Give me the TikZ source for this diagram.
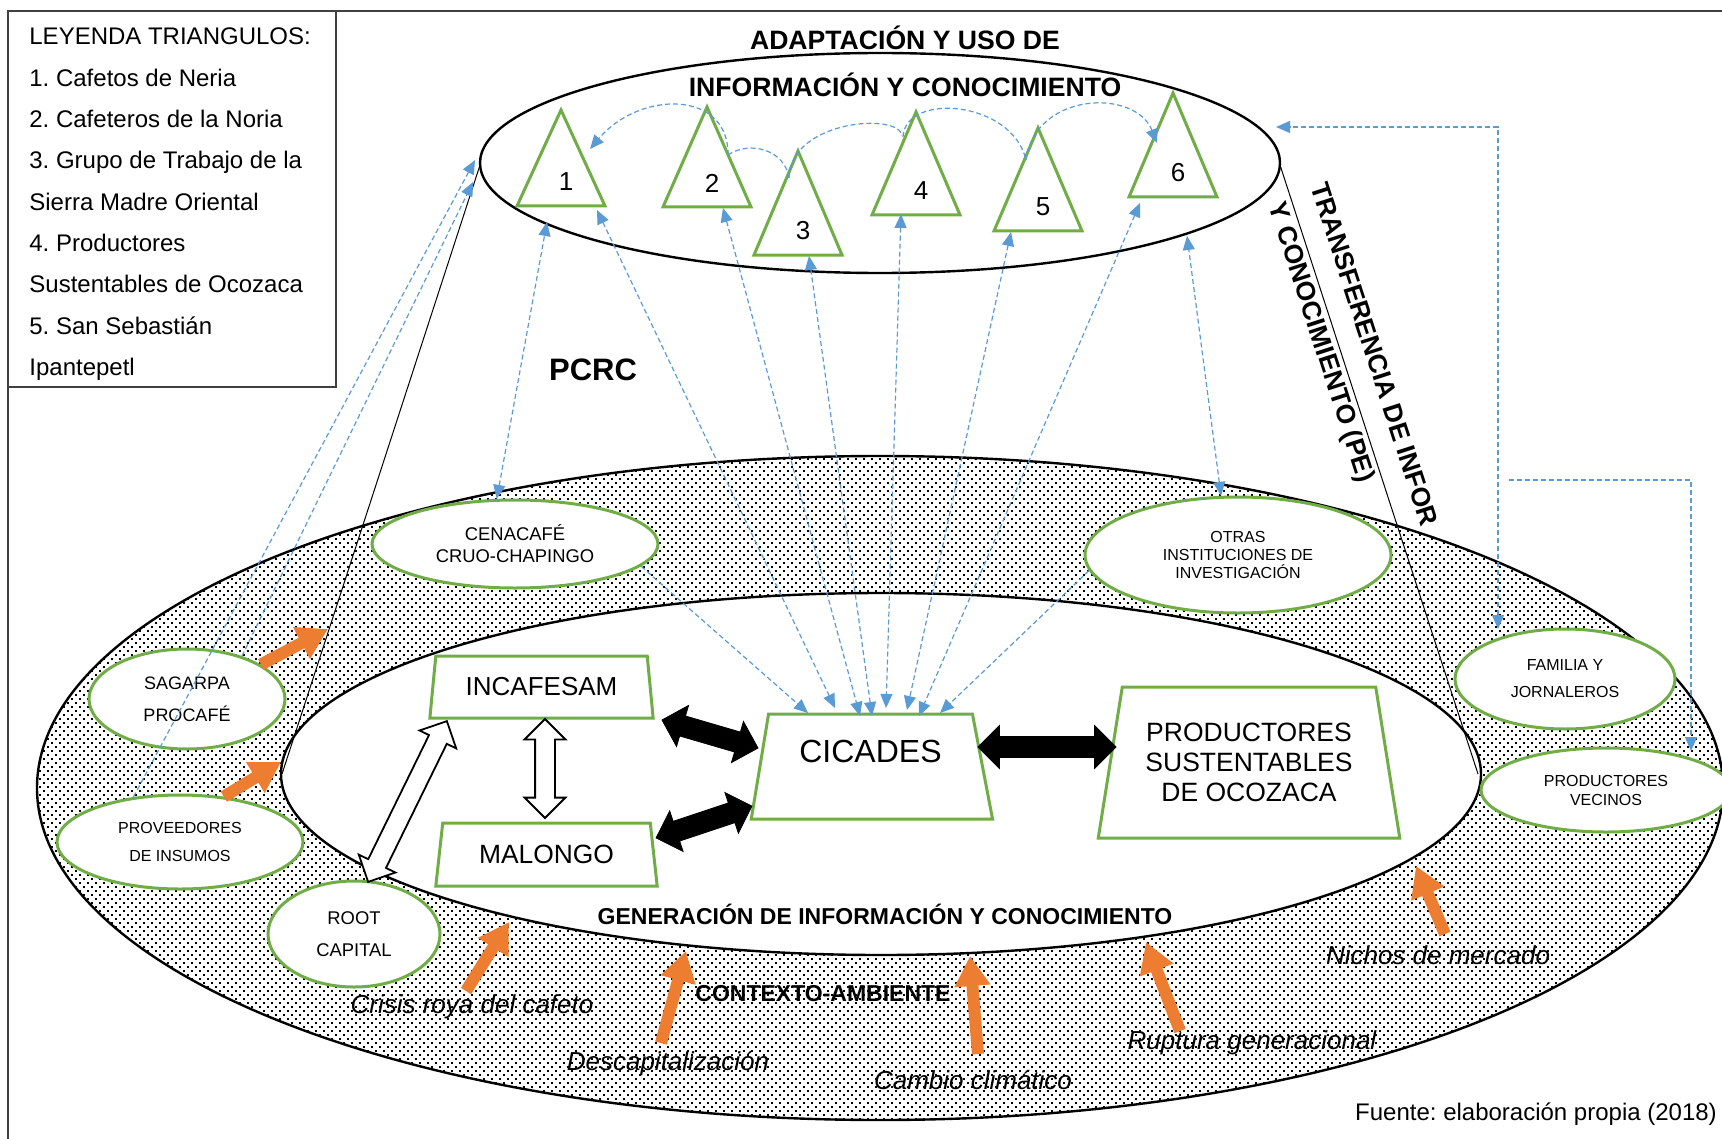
\documentclass[tikz,border=0pt]{standalone}
\usepackage{fontspec}
\setmainfont{Liberation Sans}
\usetikzlibrary{shapes.geometric,shapes.arrows,arrows.meta,patterns}
\definecolor{verde}{HTML}{70AD47}
\definecolor{azul}{HTML}{5B9BD5}
\definecolor{naranja}{HTML}{ED7D31}
\newcommand\fsz[2]{\fontsize{#1}{#2}\selectfont}
\pgfdeclarepatternformonly{puntos}{\pgfqpoint{-1pt}{-1pt}}{\pgfqpoint{5pt}{5pt}}{\pgfqpoint{4pt}{4pt}}{%
  \pgfpathrectangle{\pgfqpoint{-0.42pt}{-0.42pt}}{\pgfqpoint{0.84pt}{0.84pt}}%
  \pgfpathrectangle{\pgfqpoint{1.58pt}{1.58pt}}{\pgfqpoint{0.84pt}{0.84pt}}%
  \pgfusepath{fill}}
\tikzset{
 actor/.style={ellipse,draw=verde,line width=1.5pt,fill=white,inner sep=0pt,align=center},
 caja/.style={trapezium,trapezium stretches=true,draw=verde,line width=1.5pt,fill=white,inner sep=0pt,align=center},
 grupo/.style={draw=verde,line width=1.5pt,fill=white},
 enlace/.style={azul,line width=0.6pt,dash pattern=on 2.5pt off 1.5pt},
 ida/.style={enlace,-{Triangle[length=7pt,width=6pt]}},
 vuelta/.style={enlace,{Triangle[length=7pt,width=6pt]}-{Triangle[length=7pt,width=6pt]}},
 flujo/.style={double arrow,fill=black,draw=black,inner xsep=0pt,inner ysep=5pt,double arrow head extend=5.5pt},
 hueco/.style={double arrow,fill=white,draw=black,line width=0.9pt,inner xsep=0pt,inner ysep=4.5pt,double arrow head extend=5.25pt},
 presion/.style={naranja,line width=6pt,-{Triangle[length=15pt,width=17pt]}},
 factor/.style={anchor=base,inner sep=0pt,font=\fsz{13}{15}\itshape},
 titulo/.style={anchor=base,inner sep=0pt,font=\fsz{13.3}{16}\bfseries},
 giro/.style={rotate=-72,anchor=west,inner sep=0pt,font=\fsz{13.2}{15}\bfseries},
}
\frenchspacing
\begin{document}
\begin{tikzpicture}[x=0.5pt,y=-0.5pt]
\useasboundingbox (0,0) rectangle (1722,1139);
\draw[line width=0.9pt,black!75] (8,1139) -- (8,11) -- (1722,11);
\draw[line width=0.6pt,black!75] (8,11) rectangle (336,387);
\foreach \t [count=\i] in {LEYENDA TRIANGULOS:,1. Cafetos de Neria,2. Cafeteros de la Noria,3. Grupo de Trabajo de la,Sierra Madre Oriental,4. Productores,Sustentables de Ocozaca,5. San Sebastián,Ipantepetl}
  \node[anchor=base west,inner sep=0pt,font=\fsz{12}{14}] (ley\i) at (29,{3.7+41.3*\i}) {\t};
\node[giro] (pe1) at (1319,183) {TRANSFERENCIA DE INFOR};
\node[giro] (pe2) at (1275,203) {Y CONOCIMIENTO (PE)};
\draw[line width=1.2pt,preaction={fill=white},pattern=puntos] (880,788) ellipse [x radius=843,y radius=332];
\draw[line width=1.2pt,fill=white] (881,774) ellipse [x radius=600,y radius=181];
\draw[line width=1.2pt,fill=white] (880,163) ellipse [x radius=400,y radius=110];
\draw[line width=0.5pt] (480,165) -- (282,774);
\draw[line width=0.5pt] (1280,165) -- (1478,774);
\node[titulo] (adap) at (905,50) {ADAPTACIÓN Y USO DE};
\node[titulo] (info) at (905,97) {INFORMACIÓN Y CONOCIMIENTO};
\node[titulo,font=\fsz{15.5}{18}\bfseries] (pcrc) at (593,380) {PCRC};
\node[titulo,font=\fsz{11.5}{14}\bfseries] (gen) at (885,924) {GENERACIÓN DE INFORMACIÓN Y CONOCIMIENTO};
\node[titulo,font=\fsz{11.5}{14}\bfseries] (ctx) at (823,1001) {CONTEXTO-AMBIENTE};
\foreach \n/\x/\ya/\yb in {1/561/110/206,2/707/107/207,3/798/151/255,4/916/112/215,5/1038/128/231,6/1173/93/197}{
  \draw[grupo] (\x-44,\yb) -- (\x,\ya) -- (\x+44,\yb) -- cycle;
  \node[font=\fsz{13}{15}] (t\n) at (\x+5,\yb-24) {\n};
}
\node[actor,minimum width=143pt,minimum height=44pt,font=\fsz{9.2}{11}] (cenacafe) at (515,544) {CENACAFÉ\\CRUO-CHAPINGO};
\node[actor,minimum width=153pt,minimum height=58pt,font=\fsz{8}{9}] (otras) at (1238,555) {OTRAS\\INSTITUCIONES DE\\INVESTIGACIÓN};
\node[actor,minimum width=98pt,minimum height=50pt,font=\fsz{9}{16}] (sagarpa) at (187,699) {SAGARPA\\PROCAFÉ};
\node[actor,minimum width=123pt,minimum height=47pt,font=\fsz{8}{14}] (proveedores) at (180,842) {PROVEEDORES\\DE INSUMOS};
\node[actor,minimum width=86pt,minimum height=53pt,font=\fsz{9.2}{16}] (root) at (354,934) {ROOT\\CAPITAL};
\node[actor,minimum width=110pt,minimum height=50pt,font=\fsz{8}{13.5}] (familia) at (1565,679) {FAMILIA Y\\JORNALEROS};
\node[actor,minimum width=125pt,minimum height=42pt,font=\fsz{8}{9.5}] (vecinos) at (1606,790) {PRODUCTORES\\VECINOS};
\node[caja,minimum width=112.5pt,minimum height=31pt,trapezium left angle=77,trapezium right angle=77,font=\fsz{13}{15}] (incafesam) at (541.5,687) {INCAFESAM};
\node[caja,minimum width=111.5pt,minimum height=31.5pt,trapezium left angle=76.5,trapezium right angle=76.5,font=\fsz{13.2}{15}] (malongo) at (546.5,854.5) {MALONGO};
\node[caja,minimum width=121.5pt,minimum height=52.5pt,trapezium left angle=77,trapezium right angle=75,font=\fsz{16}{19},text depth=15pt] (cicades) at (870.5,766.5) {CICADES};
\node[caja,minimum width=151pt,minimum height=75.5pt,trapezium left angle=76,trapezium right angle=76,font=\fsz{13.25}{15}] (psoc) at (1249,762.5) {PRODUCTORES\\SUSTENTABLES\\DE OCOZACA};
\draw[ida] (728,155) .. controls (729,90) and (640,90) .. (590,149);
\draw[enlace] (728,155) .. controls (750,140) and (785,150) .. (789,178);
\draw[enlace] (789,178) .. controls (790,120) and (900,112) .. (902,136);
\draw[enlace] (903,137) .. controls (905,92) and (1012,100) .. (1026,160);
\draw[ida] (1026,160) .. controls (1035,92) and (1135,88) .. (1157,143);
\foreach \i/\ux/\uy/\dx/\dy in {1/597/210/835/708,2/723/208/860/716,3/809/256/872/716,4/901/214/886/708,5/1011/232/907/710,6/1140/203/919/716}{
  \coordinate (up\i) at (\ux,\uy);
  \coordinate (dn\i) at (\dx,\dy);
  \draw[vuelta] (up\i) -- (dn\i);
}
\draw[vuelta] (cenacafe.112) -- (547,222);
\draw[vuelta] (otras.106) -- (1187,236);
\draw[ida] (cenacafe.-10) -- (808,713);
\draw[ida] (otras.186) -- (940,713);
\draw[ida] (proveedores.136) -- (475,160);
\draw[ida] (sagarpa.38) -- (473,182);
\draw[vuelta] (1498,629) |- (1276,127);
\draw[ida] (1509,480) -| (1691,751);
\node[flujo,minimum height=50pt,rotate=-16.3] (f1) at (710,734) {};
\node[flujo,minimum height=50.5pt,rotate=18.4] (f2) at (704,822) {};
\node[flujo,minimum height=69pt] (f3) at (1047,747) {};
\node[hueco,minimum height=49.5pt,rotate=90] (h1) at (545,768.5) {};
\node[hueco,minimum height=89.5pt,rotate=63.9] (h2) at (407.5,801.5) {};
\draw[presion] (sagarpa.25) -- (328,629);
\draw[presion] (proveedores.46) -- (281,762);
\draw[presion] (466,991) -- (509,922);
\draw[presion] (661,1043) -- (686,951);
\draw[presion] (978,1054) -- (970,956);
\draw[presion] (1180,1031) -- (1146,942);
\draw[presion] (1445,934) -- (1416,866);
\node[factor] (crisis) at (472,1013) {Crisis roya del cafeto};
\node[factor] (descap) at (668,1070) {Descapitalización};
\node[factor] (cambio) at (973,1089) {Cambio climático};
\node[factor] (ruptura) at (1252,1049) {Ruptura generacional};
\node[factor] (nichos) at (1438,964) {Nichos de mercado};
\node[anchor=base,inner sep=0pt,font=\fsz{12}{14}] (fuente) at (1536,1120) {Fuente: elaboración propia (2018)};
\end{tikzpicture}
\end{document}
